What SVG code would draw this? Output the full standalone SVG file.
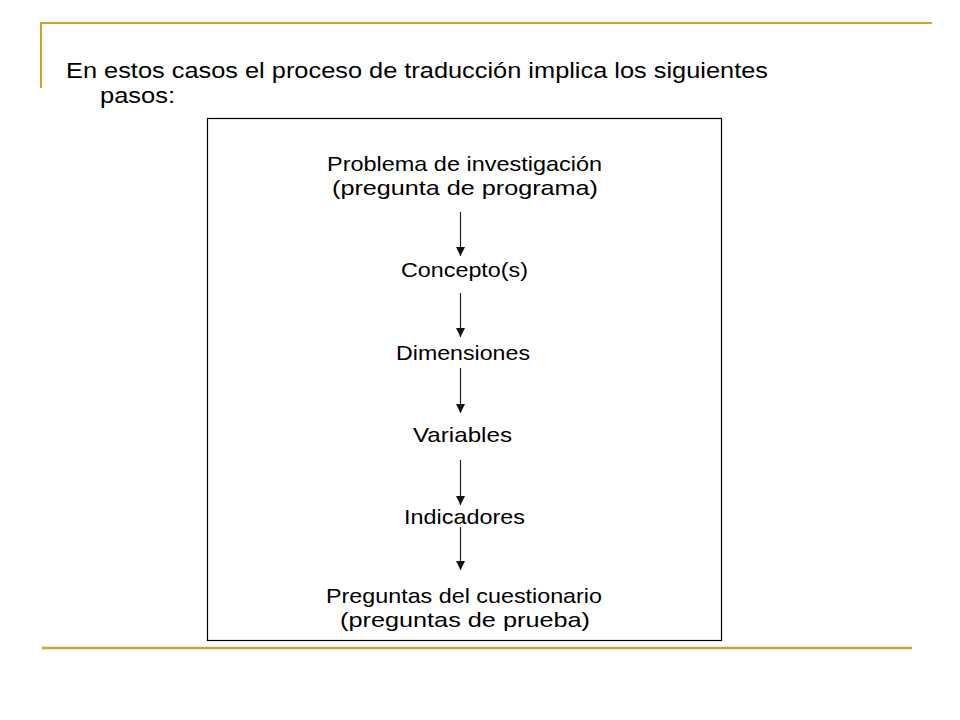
<svg xmlns="http://www.w3.org/2000/svg" width="960" height="720" viewBox="0 0 960 720">
<style>
  .t { font-family: "Liberation Sans", Arial, sans-serif; fill: #000; }
  .n { font-size: 21px; text-anchor: middle; }
  .h { font-size: 22px; }
  .c { stroke: #222; stroke-width: 1.2; fill: none; }
</style>
<defs>
  <marker id="ah" markerUnits="userSpaceOnUse" markerWidth="10" markerHeight="10" refX="9" refY="4.5" orient="auto">
    <path d="M0,0 L9,4.5 L0,9 z" fill="#111"/>
  </marker>
</defs>
<rect width="960" height="720" fill="#fff"/>
<g id="frame">
  <line x1="40" y1="23" x2="932" y2="23" stroke="#CFA22B" stroke-width="2"/>
  <line x1="41" y1="22" x2="41" y2="88" stroke="#CFA22B" stroke-width="2"/>
  <line x1="42" y1="648" x2="912" y2="648" stroke="#C3A73A" stroke-width="2.5"/>
</g>
<g id="title">
  <text class="t h" x="66" y="78" textLength="702" lengthAdjust="spacingAndGlyphs">En estos casos el proceso de traducción implica los siguientes</text>
  <text class="t h" x="100" y="103" textLength="75" lengthAdjust="spacingAndGlyphs">pasos:</text>
</g>
<g id="box">
  <rect x="207.5" y="118.5" width="514" height="522" fill="none" stroke="#000" stroke-width="1.2"/>
</g>
<g id="n1">
  <text class="t n" x="464.5" y="171" textLength="275" lengthAdjust="spacingAndGlyphs">Problema de investigación</text>
  <text class="t n" x="465" y="195" textLength="266" lengthAdjust="spacingAndGlyphs">(pregunta de programa)</text>
</g>
<g id="n2">
  <text class="t n" x="464.5" y="277" textLength="127" lengthAdjust="spacingAndGlyphs">Concepto(s)</text>
</g>
<g id="n3">
  <text class="t n" x="463" y="360" textLength="134" lengthAdjust="spacingAndGlyphs">Dimensiones</text>
</g>
<g id="n4">
  <text class="t n" x="462.5" y="442" textLength="99" lengthAdjust="spacingAndGlyphs">Variables</text>
</g>
<g id="n5">
  <text class="t n" x="464.5" y="524" textLength="121" lengthAdjust="spacingAndGlyphs">Indicadores</text>
</g>
<g id="n6">
  <text class="t n" x="464" y="603" textLength="276" lengthAdjust="spacingAndGlyphs">Preguntas del cuestionario</text>
  <text class="t n" x="465" y="627" textLength="250" lengthAdjust="spacingAndGlyphs">(preguntas de prueba)</text>
</g>
<g id="connectors">
  <line class="c" x1="460.5" y1="212" x2="460.5" y2="256" marker-end="url(#ah)"/>
  <line class="c" x1="460.5" y1="293" x2="460.5" y2="337" marker-end="url(#ah)"/>
  <line class="c" x1="460.5" y1="368" x2="460.5" y2="413" marker-end="url(#ah)"/>
  <line class="c" x1="460.5" y1="460" x2="460.5" y2="505" marker-end="url(#ah)"/>
  <line class="c" x1="460.5" y1="527" x2="460.5" y2="570" marker-end="url(#ah)"/>
</g>
</svg>
